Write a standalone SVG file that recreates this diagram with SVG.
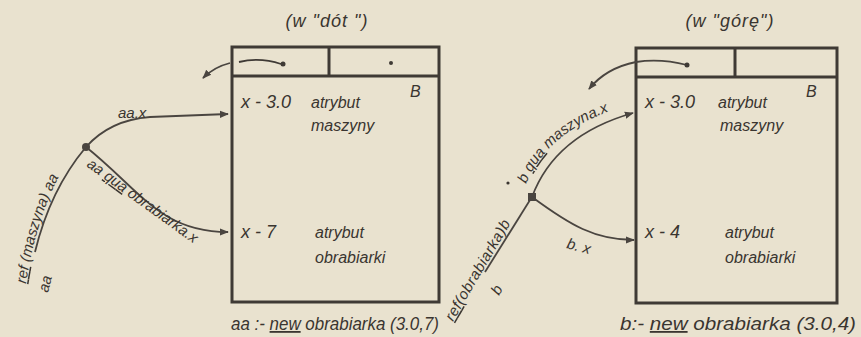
<svg xmlns="http://www.w3.org/2000/svg" width="861" height="337" viewBox="0 0 861 337">
<style>
.bg{fill:#e9e2cf}
.box{fill:none;stroke:#3f3a35;stroke-width:3}
.thin{fill:none;stroke:#3f3a35;stroke-width:1.8}
.con{fill:none;stroke:#4a4540;stroke-width:1.8}
.t{font-family:"Liberation Sans",Arial,sans-serif;font-style:italic;fill:#3a3530}
.big{font-size:18px}
.mid{font-size:16px}
.sm{font-size:15px}
.u{text-decoration:underline}
</style>
<defs>
<marker id="ah" viewBox="0 0 10 10" refX="9" refY="5" markerWidth="5" markerHeight="5" orient="auto" markerUnits="strokeWidth">
<path d="M0,1 L10,5 L0,9 z" fill="#4a4540"/>
</marker>
<path id="pLeftRef" d="M 26 284 Q 40 194 80 144"/>
<path id="pLeftQua" d="M 86 166 L 230 270"/>
<path id="pRightRef" d="M 453 322 L 522 204"/>
<path id="pRightQua" d="M 526 184 Q 550 126 632 104"/>
</defs>
<rect class="bg" x="0" y="0" width="861" height="337"/>

<g id="nodeA">
<text class="t big" x="327" y="27" text-anchor="middle" letter-spacing="1">(w "dót ")</text>
<rect class="box" x="232" y="47" width="207" height="255"/>
<line class="box" x1="232" y1="76" x2="439" y2="76"/>
<line class="box" x1="329" y1="47" x2="329" y2="76"/>
<path class="thin" d="M 239 62 Q 260 57 281 64"/>
<circle cx="283" cy="64" r="2.5" fill="#3f3a35"/>
<circle cx="391" cy="63" r="2" fill="#3f3a35"/>
<text class="t mid" x="410" y="97">B</text>
<text class="t big" x="241" y="108">x - 3.0</text>
<text class="t mid" x="311" y="108">atrybut</text>
<text class="t mid" x="311" y="131">maszyny</text>
<text class="t big" x="241" y="238">x - 7</text>
<text class="t mid" x="315" y="238">atrybut</text>
<text class="t mid" x="315" y="263">obrabiarki</text>
<text class="t big" x="231" y="330" textLength="208" lengthAdjust="spacingAndGlyphs">aa :- <tspan class="u">new</tspan> obrabiarka (3.0,7)</text>
</g>

<g id="nodeB">
<text class="t big" x="730" y="27" text-anchor="middle" letter-spacing="1">(w "górę")</text>
<rect class="box" x="636" y="48" width="201" height="255"/>
<line class="box" x1="636" y1="77" x2="837" y2="77"/>
<line class="box" x1="735" y1="48" x2="735" y2="77"/>
<text class="t mid" x="806" y="97">B</text>
<text class="t big" x="645" y="108">x - 3.0</text>
<text class="t mid" x="718" y="108">atrybut</text>
<text class="t mid" x="720" y="131">maszyny</text>
<text class="t big" x="645" y="238">x - 4</text>
<text class="t mid" x="725" y="238">atrybut</text>
<text class="t mid" x="725" y="263">obrabiarki</text>
<text class="t big" x="620" y="330" textLength="236" lengthAdjust="spacingAndGlyphs">b:- <tspan class="u">new</tspan> obrabiarka (3.0,4)</text>
</g>

<g id="refA">
<circle cx="86" cy="147" r="4" fill="#4a4540"/>
<text class="t sm"><textPath href="#pLeftRef"><tspan class="u">ref</tspan> (maszyna) aa</textPath></text>
<text class="t sm" transform="translate(48,293) rotate(-76)">aa</text>
</g>

<g id="refB">
<rect x="528" y="193" width="8" height="8" fill="#4a4540"/>
<circle cx="508" cy="183" r="1.6" fill="#3a3530"/>
<text class="t sm" letter-spacing="0.5"><textPath href="#pRightRef"><tspan class="u">ref</tspan>(obrabiarka)b</textPath></text>
<text class="t sm" transform="translate(499,296) rotate(-60)">b</text>
</g>

<g id="connectors">
<!-- left diagram -->
<path class="con" d="M 86 147 Q 110 120 150 117 L 228 114" marker-end="url(#ah)"/>
<path class="con" d="M 86 147 C 140 190 160 232 228 232" marker-end="url(#ah)"/>
<path class="con" d="M 86 147 Q 50 190 35 252"/>
<path class="con" d="M 230 63 Q 214 67 203 78" marker-end="url(#ah)"/>
<!-- right diagram -->
<path class="con" d="M 532 197 Q 555 135 633 113" marker-end="url(#ah)"/>
<path class="con" d="M 532 197 C 570 225 595 240 634 240" marker-end="url(#ah)"/>
<path class="con" d="M 530 200 L 485 272"/>
<path class="con" d="M 687 65 Q 660 58 636 62 Q 606 68 589 89" marker-end="url(#ah)"/>
<circle cx="687" cy="65" r="2.5" fill="#3f3a35"/>
</g>

<g id="labels">
<text class="t sm" x="118" y="118">aa.x</text>
<text class="t sm"><textPath href="#pLeftQua">aa <tspan class="u">qua</tspan> obrabiarka.x</textPath></text>
<text class="t sm"><textPath href="#pRightQua">b <tspan class="u">qua</tspan> maszyna.x</textPath></text>
<text class="t sm" transform="translate(566,248) rotate(15)">b. x</text>
</g>
</svg>
